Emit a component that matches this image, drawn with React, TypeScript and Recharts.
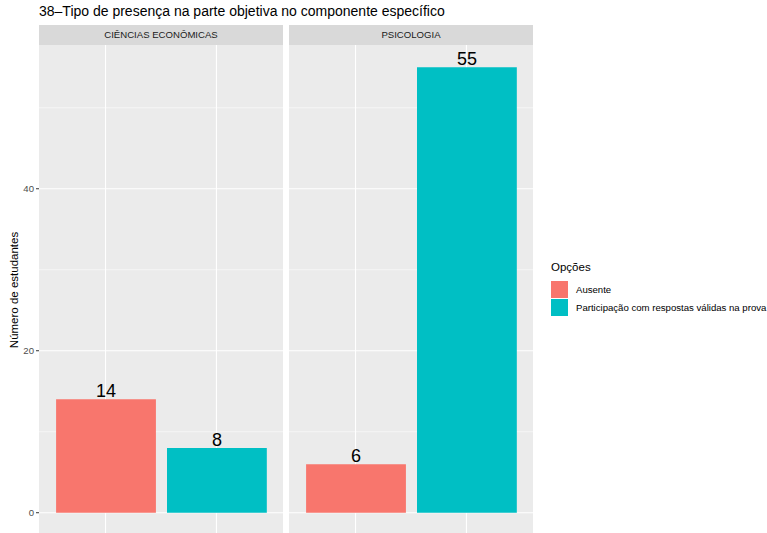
import { Bar, BarChart, CartesianGrid, Cell, LabelList, XAxis, YAxis } from 'recharts'

const title = '38–Tipo de presença na parte objetiva no componente específico'
const courses = ['CIÊNCIAS ECONÔMICAS', 'PSICOLOGIA']
const options = ['Ausente', 'Participação com respostas válidas na prova']
const economiaValues = [14, 8]
const psicologiaValues = [6, 55]
const majorTicks = [0, 20, 40]
const minorTicks = [10, 30, 50]
const colors = ['#F8766D', '#00BFC4']

const FONT = '"Liberation Sans", Arial, sans-serif'
const Y_DOMAIN: [number, number] = [-2.75, 57.75]
const X_DOMAIN: [number, number] = [0.4, 2.6]
const xTicks = [1, 2]

function Panel({ values, left, width, showAxis }: { values: number[]; left: number; width: number; showAxis: boolean }) {
  const data = options.map((name, i) => ({ name, x: i + 1, value: values[i] }))
  const axisW = showAxis ? 39 : 0
  const plotW = width - axisW
  const barW = (plotW * 0.9) / 2.2
  return (
    <div style={{ position: 'absolute', left: left - axisW, top: 0 }}>
      <BarChart width={width} height={535} data={data} margin={{ top: 45, right: 0, bottom: 0, left: 0 }}>
        <CartesianGrid fill="#EBEBEB" stroke="#FFFFFF" strokeWidth={0.55} vertical={false} horizontalValues={minorTicks} />
        <CartesianGrid stroke="#FFFFFF" strokeWidth={1.1} horizontalValues={majorTicks} verticalValues={xTicks} />
        <XAxis dataKey="x" type="number" hide domain={X_DOMAIN} ticks={xTicks} allowDataOverflow />
        <YAxis
          hide={!showAxis}
          width={axisW}
          domain={Y_DOMAIN}
          ticks={majorTicks}
          allowDataOverflow
          axisLine={false}
          tickSize={3}
          tickMargin={2}
          tickLine={{ stroke: '#333333' }}
          tick={{ fill: '#4D4D4D', fontSize: 9.6, fontFamily: FONT }}
          label={{ value: 'Número de estudantes', angle: -90, position: 'insideLeft', offset: 14, style: { fontSize: 11.5, fill: '#000', fontFamily: FONT, textAnchor: 'middle' } }}
        />
        <Bar dataKey="value" barSize={barW} isAnimationActive={false}>
          {data.map((d, i) => (
            <Cell key={d.name} fill={colors[i]} />
          ))}
          <LabelList dataKey="value" position="top" offset={2} style={{ fontSize: 18, fill: '#000', fontFamily: FONT }} />
        </Bar>
      </BarChart>
    </div>
  )
}

export default function App() {
  const panels = [
    { left: 39, width: 244, values: economiaValues },
    { left: 289, width: 244, values: psicologiaValues },
  ]
  return (
    <div style={{ position: 'absolute', left: 0, top: 0, width: 767, height: 533, overflow: 'hidden', background: '#fff', fontFamily: FONT }}>
      <div style={{ position: 'absolute', left: 39, top: 3, fontSize: 14, color: '#000', whiteSpace: 'nowrap' }}>{title}</div>
      {panels.map((p, i) => (
        <div key={courses[i]}>
          <div
            style={{
              position: 'absolute', left: p.left, top: 25, width: p.width, height: 20, background: '#D9D9D9',
              color: '#1A1A1A', fontSize: 9.6, lineHeight: '20px', textAlign: 'center',
            }}
          >
            {courses[i]}
          </div>
          <Panel values={p.values} left={p.left} width={p.width + (i === 0 ? 39 : 0)} showAxis={i === 0} />
        </div>
      ))}
      <div style={{ position: 'absolute', left: 551, top: 261, fontSize: 11.5, color: '#000' }}>Opções</div>
      {options.map((o, i) => (
        <div key={o} style={{ position: 'absolute', left: 551, top: 281 + i * 18, height: 17, display: 'flex', alignItems: 'center' }}>
          <div style={{ width: 17, height: 17, background: colors[i] }} />
          <span style={{ marginLeft: 8, fontSize: 9.6, color: '#000', whiteSpace: 'nowrap' }}>{o}</span>
        </div>
      ))}
    </div>
  )
}
